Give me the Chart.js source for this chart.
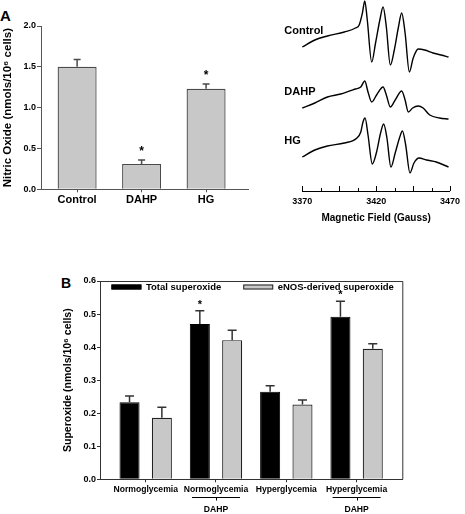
<!DOCTYPE html>
<html><head><meta charset="utf-8">
<script src="https://cdn.jsdelivr.net/npm/chart.js@4/dist/chart.umd.min.js"></script>
<style>
html,body{margin:0;padding:0;background:#fff;width:465px;height:514px;overflow:hidden;position:relative;}
canvas{position:absolute;}
.lbl{position:absolute;font-family:"Liberation Sans",Arial,sans-serif;font-weight:bold;color:#000;}
</style></head><body>
<div class="lbl" style="left:0px;top:8px;font-size:15px;line-height:15px;">A</div>
<div class="lbl" style="left:61px;top:276px;font-size:14px;line-height:14px;">B</div>
<canvas id="cA" width="255" height="215" style="left:0;top:0"></canvas>
<canvas id="cE" width="225" height="232" style="left:240px;top:0"></canvas>
<canvas id="cB" width="465" height="274" style="left:0;top:240px"></canvas>
<script>
// ---------- Panel A data ----------
const categoriesA = ['Control', 'DAHP', 'HG'];
const nitricOxide = [1.50, 0.31, 1.23];
const nitricOxideErr = [0.09, 0.05, 0.06];
const significantA = [false, true, true];

// ---------- EPR spectra data (field in Gauss, signal in arbitrary units) ----------
const fieldTicks = [3370, 3420, 3470];
const fieldControl = [3370,3378.5,3387,3398.5,3406,3408.5,3410.7,3412.3,3414,3417,3419.6,3422.5,3424.7,3426.9,3429.6,3432.3,3435.1,3437.3,3439.6,3442.5,3445.1,3448.5,3452.9,3458.5,3464,3469];
const signalControl = [144,151,155,159,163,166,178,190,171,129,148,171,184,164,126,141,164,178,158,119,133,142,141,138,136,134];
const fieldDAHP = [3370,3378.5,3387,3396,3406,3409.6,3412.3,3414.5,3417,3420.3,3424.7,3426.9,3429.6,3432.9,3437.3,3439.6,3441.8,3444.7,3448.5,3451.8,3456.3,3462.9,3469];
const signalDAHP = [83,88,94,97,102,104,110,99,89,96,104,96,84,91,100,91,79,83,85,83,76,73,72];
const fieldHG = [3370,3378.5,3387,3398.5,3407,3409.6,3411.1,3412.5,3414.5,3417.4,3420.3,3423,3425.1,3427.3,3430,3432.9,3435.8,3437.8,3440,3442.9,3445.6,3449.1,3454,3460.7,3469];
const signalHG = [34,41,45,48,53,59,69,73,56,27,39,58,67,53,24,38,53,60,46,18,28,33,31,29,24];

// ---------- Panel B data ----------
const groupsB = ['Normoglycemia', 'Normoglycemia', 'Hyperglycemia', 'Hyperglycemia'];
const treatmentB = ['', 'DAHP', '', 'DAHP'];
const totalSuperoxide = [0.233, 0.470, 0.265, 0.492];
const totalErr = [0.019, 0.040, 0.018, 0.047];
const enosSuperoxide = [0.186, 0.421, 0.226, 0.395];
const enosErr = [0.032, 0.030, 0.014, 0.015];
const significantTotal = [false, true, false, true];
const significantEnos = [false, false, false, false];

const FONT = '"Liberation Sans", Arial, Helvetica, sans-serif';
Chart.defaults.font.family = FONT;
Chart.defaults.color = '#000';

function errorBarPlugin(errs, sigs, cap, color, starSize, starGap) {
  return {
    id: 'errbars',
    afterDatasetsDraw(chart) {
      const ctx = chart.ctx, ys = chart.scales.y;
      chart.data.datasets.forEach((ds, di) => {
        const meta = chart.getDatasetMeta(di);
        meta.data.forEach((bar, i) => {
          const v = ds.data[i].y, e = errs[di][i];
          const yt = ys.getPixelForValue(v + e);
          ctx.save();
          ctx.strokeStyle = color; ctx.lineWidth = 1.5;
          ctx.beginPath();
          ctx.moveTo(bar.x, bar.y); ctx.lineTo(bar.x, yt);
          ctx.moveTo(bar.x - cap / 2, yt); ctx.lineTo(bar.x + cap / 2, yt);
          ctx.stroke();
          if (sigs[di] && sigs[di][i]) {
            ctx.fillStyle = '#000';
            ctx.font = 'bold ' + starSize + 'px ' + FONT;
            ctx.textAlign = 'center'; ctx.textBaseline = 'alphabetic';
            ctx.fillText('*', bar.x, yt - starGap);
          }
          ctx.restore();
        });
      });
    }
  };
}

// ---------- Chart A ----------
new Chart(document.getElementById('cA'), {
  type: 'bar',
  data: {
    datasets: [{
      label: 'Nitric Oxide',
      data: categoriesA.map((c, i) => ({x: i, y: nitricOxide[i]})),
      backgroundColor: '#c8c8c8', borderColor: '#4a4a4a', borderWidth: 1.3,
      barPercentage: 0.605, categoryPercentage: 1
    }]
  },
  options: {
    responsive: false, animation: false, devicePixelRatio: 1,
    layout: {padding: {top: 26, right: 7, left: 0, bottom: 0}},
    plugins: {legend: {display: false}, tooltip: {enabled: false}},
    scales: {
      x: {
        type: 'linear', min: -0.56, max: 2.65, offset: false,
        afterBuildTicks: s => { s.ticks = categoriesA.map((c, i) => ({value: i})); },
        ticks: {callback: v => categoriesA[v], font: {size: 11, weight: 'bold'}, color: '#000', padding: 1, autoSkip: false, maxRotation: 0},
        grid: {drawOnChartArea: false, offset: false, tickLength: 3, color: '#555'},
        border: {color: '#555', width: 1},
        afterFit: s => { s.height = 215 - 189.3; }
      },
      y: {
        min: 0, max: 2,
        ticks: {stepSize: 0.5, callback: v => v.toFixed(1), font: {size: 9, weight: 'bold'}, color: '#000', padding: 1},
        grid: {drawOnChartArea: false, tickLength: 4, color: '#555'},
        border: {color: '#555', width: 1},
        title: {display: true, text: 'Nitric Oxide (nmols/10\u2076 cells)', font: {size: 11.5, weight: 'bold'}, color: '#000', padding: {top: 0.6, bottom: 0}},
        afterFit: s => { s.width = 41; }
      }
    }
  },
  plugins: [errorBarPlugin([nitricOxideErr], [significantA], 7, '#4a4a4a', 12, 5)]
});

// ---------- EPR spectra ----------
const eprTicksPlugin = {
  id: 'eprTicks',
  afterDraw(chart) {
    const ctx = chart.ctx, xs = chart.scales.x, ys = chart.scales.y, ca = chart.chartArea;
    ctx.save();
    ctx.strokeStyle = '#000'; ctx.lineWidth = 1;
    xs.ticks.forEach(t => {
      const x = Math.round(xs.getPixelForValue(t.value)) + 0.5;
      const q = (t.value - fieldTicks[0]) / 25;
      const major = Math.abs(q - Math.round(q)) < 1e-6;
      ctx.beginPath(); ctx.moveTo(x, xs.top); ctx.lineTo(x, xs.top - (major ? 5 : 3)); ctx.stroke();
    });
    ctx.fillStyle = '#000';
    ctx.font = 'bold 11px ' + FONT;
    ctx.textAlign = 'left'; ctx.textBaseline = 'middle';
    chart.data.datasets.forEach(ds => {
      ctx.fillText(ds.label, ca.left - 18, ys.getPixelForValue(ds.data[0].y) - 16);
    });
    ctx.restore();
  }
};
const traceStyle = {borderColor: '#000', borderWidth: 1.4, pointRadius: 0, fill: false, cubicInterpolationMode: 'monotone', clip: false};
new Chart(document.getElementById('cE'), {
  type: 'line',
  data: {
    datasets: [
      Object.assign({label: 'Control', data: fieldControl.map((f, i) => ({x: f, y: signalControl[i]}))}, traceStyle),
      Object.assign({label: 'DAHP', data: fieldDAHP.map((f, i) => ({x: f, y: signalDAHP[i]}))}, traceStyle),
      Object.assign({label: 'HG', data: fieldHG.map((f, i) => ({x: f, y: signalHG[i]}))}, traceStyle)
    ]
  },
  options: {
    responsive: false, animation: false, devicePixelRatio: 1,
    layout: {padding: {top: 0, right: 12.7, left: 62.3, bottom: 0}},
    plugins: {legend: {display: false}, tooltip: {enabled: false}},
    scales: {
      x: {
        type: 'linear', min: 3370, max: 3470,
        ticks: {stepSize: 12.5, autoSkip: false, maxRotation: 0, padding: 5,
          callback: v => fieldTicks.includes(v) ? String(v) : '', font: {size: 9, weight: 'bold'}, color: '#000'},
        grid: {display: false, drawTicks: false},
        border: {display: true, color: '#000', width: 1},
        title: {display: true, text: 'Magnetic Field (Gauss)', font: {size: 10, weight: 'bold'}, color: '#000', padding: {top: 0, bottom: 8}},
        afterFit: s => { s.height = 232 - 191; }
      },
      y: {display: false, min: 0, max: 191}
    }
  },
  plugins: [eprTicksPlugin]
});

// ---------- Chart B ----------
const boxLegendPlugin = {
  id: 'boxLegend',
  afterDraw(chart) {
    const ctx = chart.ctx, ca = chart.chartArea;
    ctx.save();
    // frame (top and right)
    ctx.strokeStyle = '#333'; ctx.lineWidth = 1;
    ctx.beginPath();
    ctx.moveTo(ca.left, ca.top + 0.5); ctx.lineTo(ca.right + 0.5, ca.top + 0.5); ctx.lineTo(ca.right + 0.5, ca.bottom);
    ctx.stroke();
    // legend
    ctx.font = 'bold 9.5px ' + FONT;
    const bw = 30, bh = 5, gap = 4.5, sep = 22;
    const items = chart.data.datasets.map(d => ({label: d.label, fill: d.backgroundColor, stroke: d.borderColor,
      w: bw + gap + ctx.measureText(d.label).width}));
    const total = items.reduce((s, it) => s + it.w, 0) + sep * (items.length - 1);
    let x = (ca.left + ca.right) / 2 - total / 2 + 1.5;
    const y = ca.top + 6;
    items.forEach(it => {
      ctx.fillStyle = it.fill; ctx.fillRect(x, y - bh / 2, bw, bh);
      ctx.strokeStyle = it.stroke; ctx.strokeRect(x + 0.5, y - bh / 2 + 0.5, bw - 1, bh - 1);
      ctx.fillStyle = '#000'; ctx.textBaseline = 'middle'; ctx.textAlign = 'left';
      ctx.fillText(it.label, x + bw + gap, y + 0.5);
      x += it.w + sep;
    });
    // treatment underline + label
    const xs = chart.scales.x;
    ctx.strokeStyle = '#000'; ctx.lineWidth = 1;
    ctx.font = 'bold 8.6px ' + FONT; ctx.textAlign = 'center'; ctx.textBaseline = 'middle';
    treatmentB.forEach((t, i) => {
      if (!t) return;
      const cx = xs.getPixelForValue(i);
      const yl = Math.round(xs.top + 17.7) + 0.5;
      ctx.beginPath();
      ctx.moveTo(cx - 24, yl); ctx.lineTo(cx + 24, yl);
      ctx.moveTo(Math.round(cx) + 0.5, yl); ctx.lineTo(Math.round(cx) + 0.5, yl + 3);
      ctx.stroke();
      ctx.fillText(t, cx, xs.top + 30.5);
    });
    ctx.restore();
  }
};

new Chart(document.getElementById('cB'), {
  type: 'bar',
  data: {
    datasets: [
      {label: 'Total superoxide', data: groupsB.map((g, i) => ({x: i, y: totalSuperoxide[i]})),
       backgroundColor: '#000', borderColor: '#000', borderWidth: 1, barPercentage: 0.62, categoryPercentage: 0.92},
      {label: 'eNOS-derived superoxide', data: groupsB.map((g, i) => ({x: i, y: enosSuperoxide[i]})),
       backgroundColor: '#c8c8c8', borderColor: '#222', borderWidth: 1.2, barPercentage: 0.62, categoryPercentage: 0.92}
    ]
  },
  options: {
    responsive: false, animation: false, devicePixelRatio: 1,
    layout: {padding: {top: 41, right: 62.7, left: 0, bottom: 0}},
    plugins: {legend: {display: false}, tooltip: {enabled: false}},
    scales: {
      x: {
        type: 'linear', min: -0.65, max: 3.65, offset: false,
        afterBuildTicks: s => { s.ticks = groupsB.map((g, i) => ({value: i})); },
        ticks: {callback: v => groupsB[v], font: {size: 8.6, weight: 'bold'}, color: '#000', padding: 2.5, autoSkip: false, maxRotation: 0},
        grid: {drawOnChartArea: false, offset: false, tickLength: 3, color: '#333'},
        border: {color: '#333', width: 1},
        afterFit: s => { s.height = 274 - 239.3; }
      },
      y: {
        min: 0, max: 0.6,
        ticks: {stepSize: 0.1, callback: v => v.toFixed(1), font: {size: 9, weight: 'bold'}, color: '#000', padding: 1},
        grid: {drawOnChartArea: false, tickLength: 3, color: '#333'},
        border: {color: '#333', width: 1},
        title: {display: true, text: 'Superoxide (nmols/10\u2076 cells)', font: {size: 10.5, weight: 'bold'}, color: '#000', padding: {top: 61.7, bottom: 0}},
        afterFit: s => { s.width = 100; }
      }
    }
  },
  plugins: [errorBarPlugin([totalErr, enosErr], [significantTotal, significantEnos], 9, '#333', 11, 3), boxLegendPlugin]
});
</script>
</body></html>
